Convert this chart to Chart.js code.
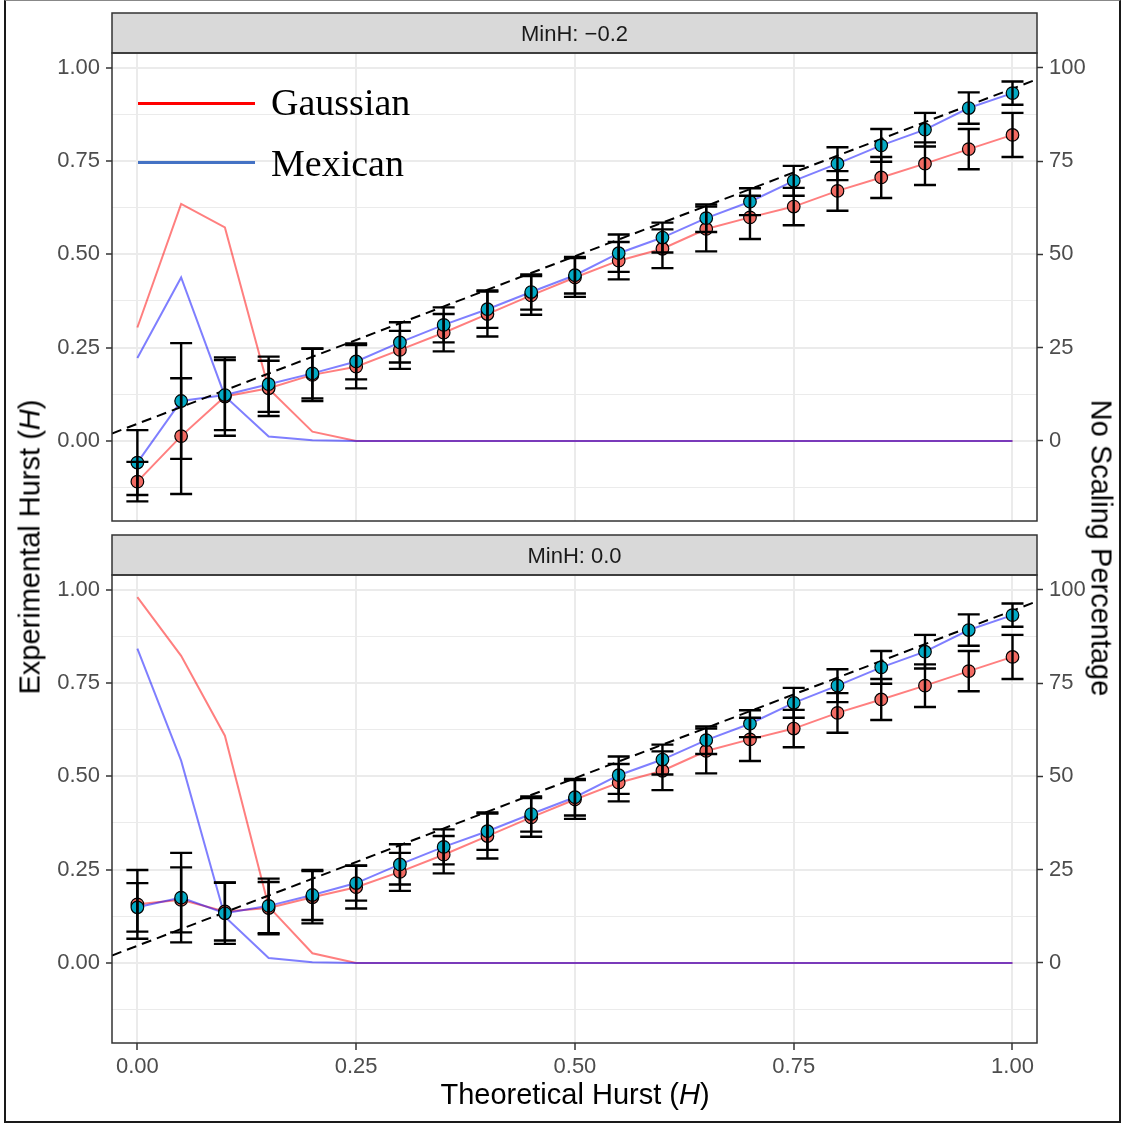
<!DOCTYPE html>
<html lang="en">
<head>
<meta charset="UTF-8">
<title>Experimental vs Theoretical Hurst</title>
<style>
  body { margin: 0; background: #fff; }
  #page { position: relative; width: 1123px; height: 1124px; overflow: hidden;
          font-family: "Liberation Sans", Arial, Helvetica, sans-serif; }
  #frame { position: absolute; left: 4px; top: 0; width: 1113px; height: 1120px;
           border: 2px solid #1a1a1a; border-top: 1px solid #888; }
  .panel { position: absolute; left: 0; }
  .title { position: absolute; white-space: nowrap; font-size: 29px; color: #000;
           transform: translate(-50%, -50%); }
  .legline { position: absolute; left: 138px; width: 117px; height: 3px; }
  .legtext { position: absolute; left: 271px; font-family: "Liberation Serif", "Times New Roman", serif;
             font-size: 38px; line-height: 1; color: #000; transform: translateY(-50%); }
</style>
<script src="https://cdn.jsdelivr.net/npm/chart.js"></script>
</head>
<body>
<div id="page">
  <div id="frame"></div>
  <div class="panel" style="top:0"><canvas id="topChart" width="1123" height="530"></canvas></div>
  <div class="panel" style="top:530px"><canvas id="bottomChart" width="1123" height="594"></canvas></div>

  <div class="legline" style="top:102px; background:#ff0000"></div>
  <div class="legtext" style="top:102px">Gaussian</div>
  <div class="legline" style="top:161px; background:#4472c4"></div>
  <div class="legtext" style="top:163px">Mexican</div>

  <div class="title" style="left:30px; top:547px; transform: translate(-50%, -50%) rotate(-90deg)">Experimental Hurst (<i>H</i>)</div>
  <div class="title" style="left:1101px; top:548px; transform: translate(-50%, -50%) rotate(90deg)">No Scaling Percentage</div>
  <div class="title" style="left:575px; top:1094px">Theoretical Hurst (<i>H</i>)</div>
</div>
<script>
  Chart.defaults.font.family = '"Liberation Sans", Arial, Helvetica, sans-serif';

  // eje x: Hurst teórico
  const hurstTheoretical = [0.00, 0.05, 0.10, 0.15, 0.20, 0.25, 0.30, 0.35, 0.40, 0.45, 0.50,
                            0.55, 0.60, 0.65, 0.70, 0.75, 0.80, 0.85, 0.90, 0.95, 1.00];
  const hurstTicks = [0, 0.25, 0.5, 0.75, 1];
  const hurstMinorTicks = [-0.125, 0.125, 0.375, 0.625, 0.875];
  const percentTicks = [0, 25, 50, 75, 100];

  // línea de referencia discontinua
  const refIntercept = 0.046;
  const refSlope = 0.898;

  // MinH: -0.2
  const gaussH_m02   = [-0.109, 0.013, 0.119, 0.141, 0.177, 0.199, 0.244, 0.290, 0.340, 0.390, 0.438,
                        0.483, 0.515, 0.568, 0.599, 0.628, 0.670, 0.706, 0.743, 0.782, 0.820];
  const gaussErr_m02 = [0.053, 0.155, 0.105, 0.074, 0.070, 0.058, 0.051, 0.050, 0.060, 0.052, 0.052,
                        0.050, 0.052, 0.060, 0.058, 0.050, 0.053, 0.055, 0.057, 0.054, 0.059];
  const mexH_m02     = [-0.058, 0.107, 0.123, 0.152, 0.181, 0.213, 0.264, 0.311, 0.353, 0.399, 0.444,
                        0.503, 0.545, 0.597, 0.641, 0.697, 0.743, 0.792, 0.834, 0.892, 0.932];
  const mexErr_m02   = [0.087, 0.155, 0.094, 0.074, 0.067, 0.048, 0.054, 0.047, 0.050, 0.047, 0.049,
                        0.050, 0.040, 0.037, 0.036, 0.040, 0.044, 0.044, 0.045, 0.042, 0.031];
  const gaussNoScale_m02 = [30.4, 63.5, 57.2, 14, 2.5, 0, 0, 0, 0, 0, 0, 0, 0, 0, 0, 0, 0, 0, 0, 0, 0];
  const mexNoScale_m02   = [22.2, 43.8, 12, 1.2, 0.2, 0, 0, 0, 0, 0, 0, 0, 0, 0, 0, 0, 0, 0, 0, 0, 0];

  // MinH: 0.0
  const gaussH_00   = [0.157, 0.169, 0.138, 0.147, 0.176, 0.203, 0.244, 0.290, 0.340, 0.390, 0.438,
                       0.483, 0.515, 0.568, 0.599, 0.628, 0.670, 0.706, 0.743, 0.782, 0.820];
  const gaussErr_00 = [0.092, 0.087, 0.078, 0.070, 0.070, 0.057, 0.051, 0.050, 0.060, 0.052, 0.052,
                       0.050, 0.052, 0.060, 0.058, 0.050, 0.053, 0.055, 0.057, 0.054, 0.059];
  const mexH_00     = [0.149, 0.175, 0.133, 0.153, 0.182, 0.214, 0.264, 0.311, 0.353, 0.399, 0.444,
                       0.503, 0.545, 0.597, 0.641, 0.697, 0.743, 0.792, 0.834, 0.892, 0.932];
  const mexErr_00   = [0.065, 0.120, 0.082, 0.073, 0.067, 0.047, 0.054, 0.047, 0.050, 0.047, 0.049,
                       0.050, 0.040, 0.037, 0.036, 0.040, 0.044, 0.044, 0.045, 0.042, 0.031];
  const gaussNoScale_00 = [98, 82.3, 60.9, 15.1, 2.6, 0, 0, 0, 0, 0, 0, 0, 0, 0, 0, 0, 0, 0, 0, 0, 0];
  const mexNoScale_00   = [84.2, 54.2, 12.4, 1.3, 0.2, 0, 0, 0, 0, 0, 0, 0, 0, 0, 0, 0, 0, 0, 0, 0, 0];

  const xMin = -0.029, xMax = 1.028;
  const yMin = -0.2145, yMax = 1.0395;

  const isMajor = v => hurstTicks.includes(v);

  function pts(xs, ys) {
    return xs.map((x, i) => ({ x: x, y: ys[i] }));
  }

  // tira gris, borde del panel y barras de error
  function panelDecor(label, bars) {
    return {
      id: 'panelDecor',
      afterDatasetsDraw(chart) {
        const { ctx, chartArea: a, scales } = chart;
        ctx.save();
        ctx.beginPath();
        ctx.rect(a.left, a.top, a.width, a.height);
        ctx.clip();
        ctx.strokeStyle = '#000';
        ctx.lineWidth = 2.4;
        bars.forEach(b => {
          b.mid.forEach((v, i) => {
            const px = scales.x.getPixelForValue(hurstTheoretical[i]);
            const lo = scales.y.getPixelForValue(v - b.err[i]);
            const hi = scales.y.getPixelForValue(v + b.err[i]);
            ctx.beginPath();
            ctx.moveTo(px, lo); ctx.lineTo(px, hi);
            ctx.moveTo(px - 11, lo); ctx.lineTo(px + 11, lo);
            ctx.moveTo(px - 11, hi); ctx.lineTo(px + 11, hi);
            ctx.stroke();
          });
        });
        ctx.restore();
      },
      afterDraw(chart) {
        const { ctx, chartArea: a } = chart;
        ctx.save();
        ctx.fillStyle = '#d9d9d9';
        ctx.strokeStyle = '#333';
        ctx.lineWidth = 1.5;
        ctx.fillRect(a.left, a.top - 40, a.width, 40);
        ctx.strokeRect(a.left, a.top - 40, a.width, 40);
        ctx.strokeRect(a.left, a.top, a.width, a.height);
        ctx.fillStyle = '#1a1a1a';
        ctx.font = '22px "Liberation Sans", Arial, sans-serif';
        ctx.textAlign = 'center';
        ctx.textBaseline = 'middle';
        ctx.fillText(label, (a.left + a.right) / 2, a.top - 18);
        ctx.restore();
      }
    };
  }

  function buildChart(id, p) {
    return new Chart(document.getElementById(id), {
      type: 'line',
      data: {
        datasets: [
          { data: pts(hurstTheoretical, p.gaussNS), yAxisID: 'y2', borderColor: 'rgba(255,0,0,0.5)',
            borderWidth: 2, pointRadius: 0, order: 10 },
          { data: pts(hurstTheoretical, p.mexNS), yAxisID: 'y2', borderColor: 'rgba(0,0,255,0.5)',
            borderWidth: 2, pointRadius: 0, order: 9 },
          { data: pts(hurstTheoretical, p.gaussH), borderColor: 'rgba(255,0,0,0.5)',
            borderWidth: 2, pointRadius: 0, order: 8 },
          { data: pts(hurstTheoretical, p.mexH), borderColor: 'rgba(0,0,255,0.5)',
            borderWidth: 2, pointRadius: 0, order: 7 },
          { data: [{ x: xMin, y: refIntercept + refSlope * xMin }, { x: xMax, y: refIntercept + refSlope * xMax }],
            borderColor: '#000', borderWidth: 2, borderDash: [10, 6], pointRadius: 0, order: 6 },
          { data: pts(hurstTheoretical, p.gaussH), showLine: false, pointRadius: 6.3,
            pointBackgroundColor: '#f26b63', pointBorderColor: '#000', pointBorderWidth: 1.2, order: 5 },
          { data: pts(hurstTheoretical, p.mexH), showLine: false, pointRadius: 6.3,
            pointBackgroundColor: '#03a9c4', pointBorderColor: '#000', pointBorderWidth: 1.2, order: 4 }
        ]
      },
      options: {
        responsive: false,
        animation: false,
        events: [],
        layout: { padding: { top: p.padTop, bottom: p.padBottom, left: 0, right: 0 } },
        plugins: { legend: { display: false }, tooltip: { enabled: false } },
        scales: {
          x: {
            type: 'linear', min: xMin, max: xMax,
            afterBuildTicks: s => { s.ticks = hurstTicks.map(v => ({ value: v })); },
            afterFit: s => { s.height = p.xHeight; s.paddingLeft = 0; s.paddingRight = 0; },
            ticks: { display: p.showX, autoSkip: false, maxRotation: 0, padding: 4, color: '#4d4d4d',
                     font: { size: 22 }, callback: v => v.toFixed(2) },
            grid: { color: '#ebebeb', lineWidth: 2, drawTicks: p.showX, tickLength: 7,
                    tickColor: '#333', tickWidth: 1.5 },
            border: { display: false }
          },
          y: {
            type: 'linear', position: 'left', min: yMin, max: yMax,
            afterBuildTicks: s => {
              s.ticks = hurstMinorTicks.concat(hurstTicks).sort((a, b) => a - b).map(v => ({ value: v }));
            },
            afterFit: s => { s.width = 112; s.paddingTop = 0; s.paddingBottom = 0; },
            ticks: { autoSkip: false, padding: 6, color: '#4d4d4d', font: { size: 22 },
                     callback: v => isMajor(v) ? v.toFixed(2) : '' },
            grid: {
              color: '#ebebeb',
              lineWidth: c => (c.tick && isMajor(c.tick.value)) ? 2 : 1,
              tickLength: 6,
              tickWidth: 1.5,
              tickColor: c => (c.tick && isMajor(c.tick.value)) ? '#333' : 'rgba(0,0,0,0)'
            },
            border: { display: false }
          },
          y2: {
            type: 'linear', position: 'right', min: yMin * 100, max: yMax * 100,
            afterBuildTicks: s => { s.ticks = percentTicks.map(v => ({ value: v })); },
            afterFit: s => { s.width = 86; s.paddingTop = 0; s.paddingBottom = 0; },
            ticks: { autoSkip: false, padding: 6, color: '#4d4d4d', font: { size: 22 },
                     callback: v => String(v) },
            grid: { drawOnChartArea: false, tickLength: 6, tickColor: '#333', tickWidth: 1.5 },
            border: { display: false }
          }
        }
      },
      plugins: [panelDecor(p.label, [
        { mid: p.gaussH, err: p.gaussErr },
        { mid: p.mexH, err: p.mexErr }
      ])]
    });
  }

  buildChart('topChart', {
    label: 'MinH: \u22120.2', showX: false, padTop: 53, padBottom: 9, xHeight: 0,
    gaussH: gaussH_m02, gaussErr: gaussErr_m02, mexH: mexH_m02, mexErr: mexErr_m02,
    gaussNS: gaussNoScale_m02, mexNS: mexNoScale_m02
  });

  buildChart('bottomChart', {
    label: 'MinH: 0.0', showX: true, padTop: 45, padBottom: 0, xHeight: 81,
    gaussH: gaussH_00, gaussErr: gaussErr_00, mexH: mexH_00, mexErr: mexErr_00,
    gaussNS: gaussNoScale_00, mexNS: mexNoScale_00
  });
</script>
</body>
</html>
